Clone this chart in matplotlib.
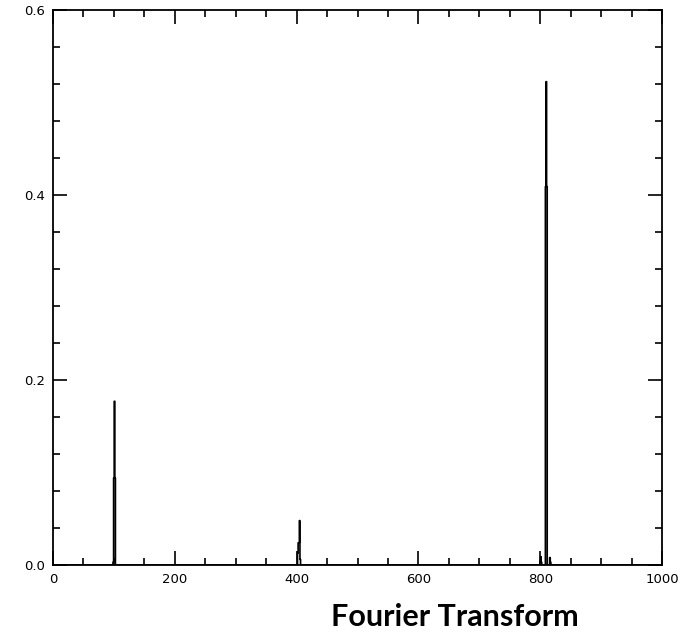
import numpy as np
import matplotlib
matplotlib.use("Agg")
from matplotlib import pyplot as plt
from matplotlib.ticker import MultipleLocator, FormatStrFormatter

# spectrum samples (frequency index -> amplitude), everything else is zero
peak_freqs = [99, 100, 101, 102, 402, 403, 404, 405, 406,
              800, 801, 802, 809, 810, 811, 816, 817]
peak_amps = [0.003, 0.094, 0.177, 0.094, 0.013, 0.024, 0.024, 0.048, 0.006,
             0.004, 0.009, 0.003, 0.409, 0.5225, 0.409, 0.008, 0.003]

freq = np.arange(0, 1001)
amp = np.zeros(len(freq))
amp[peak_freqs] = peak_amps

fig = plt.figure(figsize=(6.96, 6.33), dpi=100)
ax = fig.add_axes([53/696, 1-565/633, (662-53)/696, (565-10)/633])
ax.plot(freq, amp, color="black", linewidth=1.2, drawstyle="steps-mid")

ax.set_xlim(0, 1000)
ax.set_ylim(0, 0.6)
ax.xaxis.set_major_locator(MultipleLocator(200))
ax.xaxis.set_minor_locator(MultipleLocator(50))
ax.yaxis.set_major_locator(MultipleLocator(0.2))
ax.yaxis.set_minor_locator(MultipleLocator(0.04))
ax.yaxis.set_major_formatter(FormatStrFormatter("%.1f"))
ax.tick_params(which="both", direction="in", top=True, right=True,
               labelsize=9.5, width=1.2, pad=6)
ax.tick_params(which="major", length=10)
ax.tick_params(which="minor", length=5)
for s in ax.spines.values():
    s.set_linewidth(1.3)

fig.text(455/696, 1-617/633, "Fourier Transform", ha="center", va="center",
         fontsize=22, fontweight="bold", family=["Lato", "DejaVu Sans"])

fig.savefig("out.png", dpi=100)
